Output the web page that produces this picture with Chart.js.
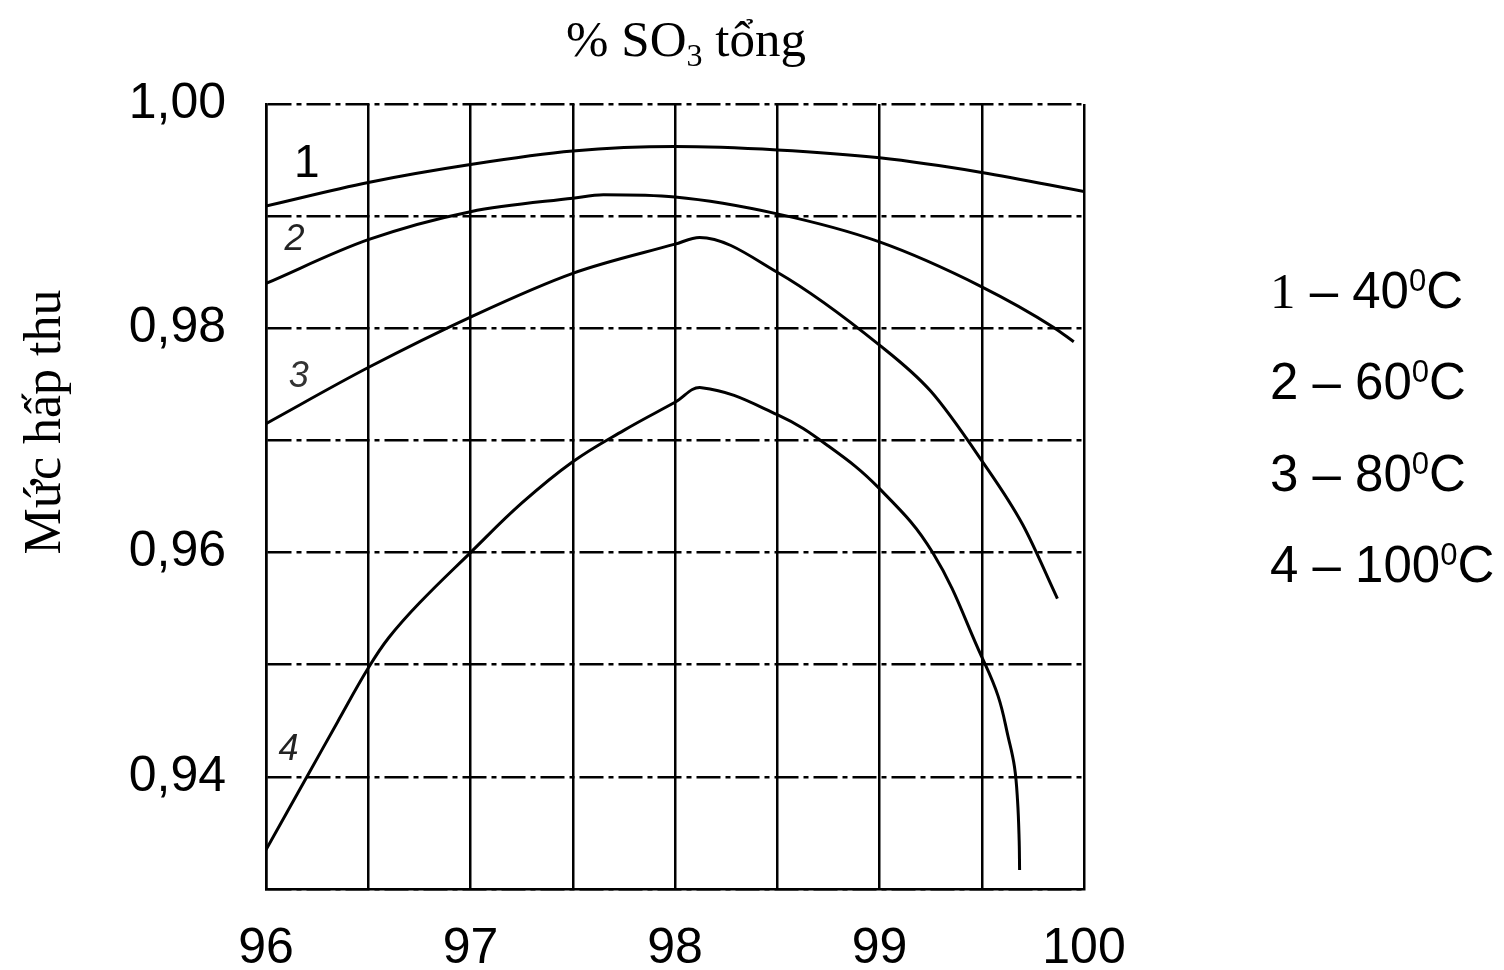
<!DOCTYPE html>
<html>
<head>
<meta charset="utf-8">
<script src="https://cdn.jsdelivr.net/npm/chart.js@4/dist/chart.umd.min.js"></script>
<style>
  html, body { margin: 0; padding: 0; background: #fff; }
  #wrap { width: 1504px; height: 970px; position: relative; }
</style>
</head>
<body>
<div id="wrap"><canvas id="absChart"></canvas></div>
<script>
// ---- số liệu đọc từ đồ thị ----
const soX1 = [96, 96.5, 97, 97.5, 98, 98.5, 99, 99.5, 100];
const hapThu1 = [0.9909, 0.9930, 0.9946, 0.9958, 0.9962, 0.9959, 0.9952, 0.9939, 0.9922];

const soX2 = [96, 96.5, 97, 97.5, 97.65, 98, 98.5, 99, 99.5, 99.85, 99.95];
const hapThu2 = [0.9840, 0.9879, 0.9904, 0.9916, 0.9919, 0.9917, 0.9902, 0.9877, 0.9837, 0.9801, 0.9788];

const soX3 = [96, 96.5, 97, 97.5, 98, 98.12, 98.5, 99, 99.25, 99.5, 99.7, 99.87];
const hapThu3 = [0.9715, 0.9765, 0.9810, 0.9849, 0.9875, 0.9881, 0.9850, 0.9785, 0.9744, 0.9682, 0.9625, 0.9559];

const soX4 = [96, 96.2, 96.35, 96.5, 96.6, 96.75, 97, 97.25, 97.5, 97.75, 98, 98.13, 98.5, 98.75, 99, 99.26, 99.5, 99.58, 99.63, 99.66, 99.675, 99.683, 99.685];
const hapThu4 = [0.9335, 0.9400, 0.9449, 0.9497, 0.9524, 0.9555, 0.9600, 0.9644, 0.9681, 0.9709, 0.9734, 0.9747, 0.9723, 0.9695, 0.9657, 0.9600, 0.9507, 0.9472, 0.9435, 0.9409, 0.9379, 0.9343, 0.9317];

const curveNames = ['1', '2', '3', '4'];
const temps = [40, 60, 80, 100];
const xTicks = [96, 97, 98, 99, 100];
const yTicks = [0.94, 0.96, 0.98, 1.00];

const pts = (xs, ys) => xs.map((v, i) => ({ x: v, y: ys[i] }));

// vẽ chữ: tiêu đề, nhãn trục tung, số đường cong, chú thích
const textPlugin = {
  id: 'texts',
  afterDraw(chart) {
    const ctx = chart.ctx;
    const sx = chart.scales.x, sy = chart.scales.y;
    ctx.save();
    ctx.fillStyle = '#000';
    ctx.textBaseline = 'alphabetic';

    // tiêu đề trên: % SO3 tổng
    const serif = '"Liberation Serif", "Times New Roman", serif';
    ctx.font = '51px ' + serif;
    const p1 = '% SO', p2 = ' tổng';
    const w1 = ctx.measureText(p1).width, w2 = ctx.measureText(p2).width;
    ctx.font = '32px ' + serif;
    const ws = ctx.measureText('3').width;
    let tx = 686 - (w1 + ws + w2) / 2;
    ctx.font = '51px ' + serif;
    ctx.textAlign = 'left';
    ctx.fillText(p1, tx, 56);
    ctx.font = '32px ' + serif;
    ctx.fillText('3', tx + w1, 66);
    ctx.font = '51px ' + serif;
    ctx.fillText(p2, tx + w1 + ws, 56);

    // nhãn trục tung
    ctx.save();
    ctx.translate(60, 422);
    ctx.rotate(-Math.PI / 2);
    ctx.textAlign = 'center';
    ctx.font = '52px ' + serif;
    ctx.fillText('Mức hấp thu', 0, 0);
    ctx.restore();

    // số trên các đường cong
    const labelPos = [[96.2, 0.9946, 46, '#000'], [96.14, 0.9879, 36, '#222'], [96.16, 0.9757, 36, '#333'], [96.11, 0.9424, 36, '#222']];
    ctx.textAlign = 'center';
    ctx.textBaseline = 'middle';
    curveNames.forEach((n, i) => {
      const [lx, ly, fs, col] = labelPos[i];
      ctx.fillStyle = col;
      ctx.font = (i === 0 ? '' : 'italic ') + fs + 'px "Liberation Sans", Arial, sans-serif';
      ctx.fillText(n, sx.getPixelForValue(lx), sy.getPixelForValue(ly));
    });

    // chú thích bên phải
    ctx.fillStyle = '#000';
    ctx.textAlign = 'left';
    ctx.textBaseline = 'alphabetic';
    const sans = '"Liberation Sans", Arial, sans-serif';
    temps.forEach((t, i) => {
      const by = 308 + i * 91.3;
      let lx = 1270;
      ctx.font = (i === 0 ? '51px ' + serif : '51px ' + sans);
      ctx.fillText(curveNames[i], lx, by);
      lx += ctx.measureText(curveNames[i]).width;
      ctx.font = '51px ' + sans;
      const mid = ' – ' + t;
      ctx.fillText(mid, lx, by);
      lx += ctx.measureText(mid).width;
      ctx.font = '31px ' + sans;
      ctx.fillText('0', lx, by - 17);
      lx += ctx.measureText('0').width;
      ctx.font = '51px ' + sans;
      ctx.fillText('C', lx, by);
    });
    ctx.restore();
  }
};

const lineStyle = {
  borderColor: '#000',
  borderWidth: 3,
  pointRadius: 0,
  fill: false,
  cubicInterpolationMode: 'monotone',
};

new Chart(document.getElementById('absChart'), {
  type: 'line',
  data: {
    datasets: [
      { label: curveNames[0], data: pts(soX1, hapThu1), ...lineStyle },
      { label: curveNames[1], data: pts(soX2, hapThu2), ...lineStyle },
      { label: curveNames[2], data: pts(soX3, hapThu3), ...lineStyle },
      { label: curveNames[3], data: pts(soX4, hapThu4), ...lineStyle, cubicInterpolationMode: 'default', tension: 0.4 },
    ],
  },
  options: {
    responsive: true,
    maintainAspectRatio: false,
    animation: false,
    layout: { padding: { top: 104, right: 420, left: 0, bottom: 0 } },
    plugins: {
      legend: { display: false },
      tooltip: { enabled: false },
    },
    scales: {
      x: {
        type: 'linear',
        min: 96,
        max: 100,
        afterFit: s => { s.height = 81; },
        ticks: {
          stepSize: 0.5,
          autoSkip: false,
          maxRotation: 0,
          padding: 30,
          color: '#000',
          font: { family: '"Liberation Sans", Arial, sans-serif', size: 50 },
          callback: v => xTicks.includes(v) ? String(v) : '',
        },
        grid: { color: '#000', lineWidth: 2.5, drawTicks: false },
        border: { color: '#000', width: 2.5 },
      },
      y: {
        type: 'linear',
        min: 0.93,
        max: 1.00,
        afterFit: s => { s.width = 266; },
        ticks: {
          stepSize: 0.01,
          autoSkip: false,
          padding: 40,
          color: '#000',
          font: { family: '"Liberation Sans", Arial, sans-serif', size: 50 },
          callback: v => {
            const r = Math.round(v * 100) / 100;
            return yTicks.some(t => Math.abs(t - r) < 1e-6) ? r.toFixed(2).replace('.', ',') : '';
          },
        },
        grid: { color: '#000', lineWidth: 2.5, drawTicks: false },
        border: { color: '#000', width: 2.5, dash: [24, 5, 5, 5] },
      },
    },
  },
  plugins: [textPlugin],
});
</script>
</body>
</html>
